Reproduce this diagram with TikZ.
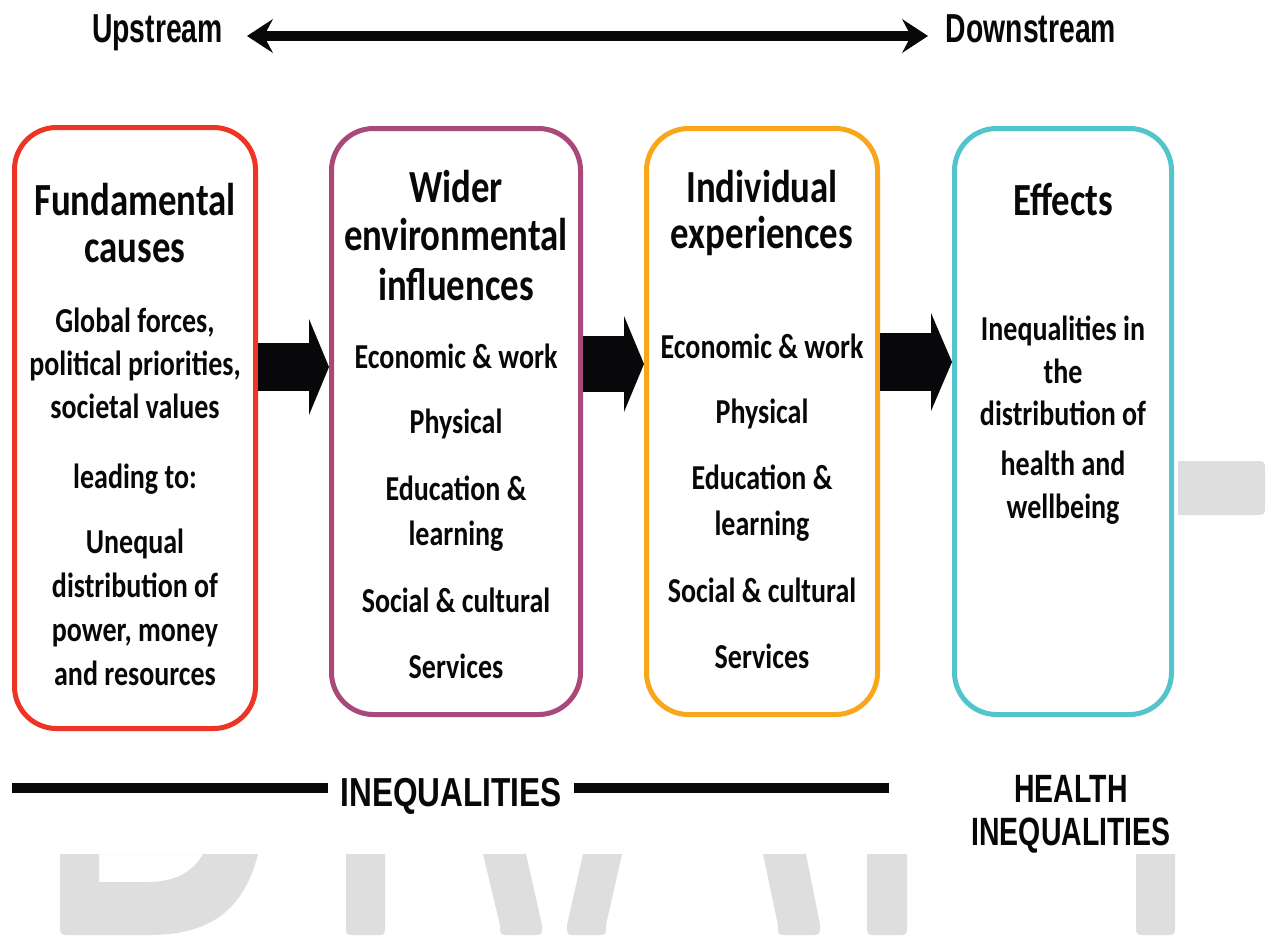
\documentclass[tikz,border=0pt]{standalone}
\usepackage{fontspec}
\setmainfont{Carlito}
\newfontfamily\bxfont[FakeStretch=0.8]{Carlito}
\newfontfamily\anafont[FakeStretch=0.70]{Liberation Sans}
\newfontfamily\anbfont[FakeStretch=0.78]{Liberation Sans}
\newfontfamily\ancfont[FakeStretch=0.72]{Liberation Sans}
\usetikzlibrary{arrows.meta}
\definecolor{cred}{RGB}{238,52,36}
\definecolor{cpur}{RGB}{168,73,122}
\definecolor{corg}{RGB}{250,166,26}
\definecolor{cteal}{RGB}{82,196,204}
\definecolor{wmgray}{RGB}{222,222,222}
\definecolor{ink}{RGB}{8,8,10}
\newcommand\wmstroke[4]{\fill[wm] (#1,854) -- (#3,925) .. controls (#3,935) .. (#3+10,935) -- (#4-10,935) .. controls (#4,935) .. (#4,925) -- (#2,854) -- cycle;}
\begin{document}
\begin{tikzpicture}[x=1pt,y=-1pt,
  stagebox/.style={draw, line width=5pt, rounded corners=42pt, inner sep=0pt},
  headtxt/.style={font=\bxfont\bfseries\fontsize{46}{48}\selectfont, anchor=base, inner sep=0pt, text=ink},
  bodytxt/.style={font=\bxfont\bfseries\fontsize{35}{40}\selectfont, anchor=base, inner sep=0pt, text=ink},
  lbla/.style={font=\anafont\bfseries\fontsize{40.5}{44}\selectfont, anchor=base, inner sep=0pt, text=ink},
  lblb/.style={font=\anbfont\bfseries\fontsize{40.5}{44}\selectfont, anchor=base, inner sep=0pt, text=ink},
  lblc/.style={font=\ancfont\bfseries\fontsize{39.5}{44}\selectfont, anchor=base, inner sep=0pt, text=ink},
  blkarrow/.style={draw=ink, line width=#1},
  wm/.style={fill=wmgray},
]
\useasboundingbox (0,0) rectangle (1268,938);
\fill[white] (0,0) rectangle (1268,938);

% watermark remnants
\fill[wm, even odd rule] (60,854) -- (60,923) .. controls (60,935) .. (72,935) -- (150,935) .. controls (215,935) and (245,905) .. (258,854) -- cycle
  (99,854) -- (99,882) -- (147,882) .. controls (175,882) and (193,872) .. (203,854) -- cycle;
\wmstroke{346}{385}{346}{385}
\wmstroke{483}{526}{500}{542}
\wmstroke{583}{622}{567}{606}
\wmstroke{763}{806}{778}{820}
\wmstroke{867}{907}{867}{907}
\wmstroke{1136}{1175}{1136}{1175}
\fill[wm] (1178,461) -- (1255,461) .. controls (1265,461) .. (1265,471) -- (1265,505) .. controls (1265,515) .. (1255,515) -- (1178,515) -- cycle;

% top labels and double arrow
\node[lbla] (up) at (157.5,42) {Upstream};
\node[lbla] (down) at (1031,42) {Downstream};
\coordinate (al) at (247,36);
\coordinate (ar) at (928,36);
\draw[ink, line width=10pt, {Stealth[length=26pt,width=34pt,inset=9pt,line width=0pt]}-{Stealth[length=26pt,width=34pt,inset=9pt,line width=0pt]}] (al) -- (ar);

% boxes
\node[stagebox, draw=cred, minimum width=241pt, minimum height=601pt] (b1) at (135,428) {};
\node[stagebox, draw=cpur, minimum width=249pt, minimum height=586pt] (b2) at (456,421.5) {};
\node[stagebox, draw=corg, minimum width=231pt, minimum height=586pt] (b3) at (762,421.5) {};
\node[stagebox, draw=cteal, minimum width=217pt, minimum height=586pt] (b4) at (1063,421.5) {};

% box 1 text
\node[headtxt] (t11) at (135,215) {Fundamental};
\node[headtxt] (t12) at (135,262) {causes};
\node[bodytxt] (t13) at (135,332) {Global forces,};
\node[bodytxt] (t14) at (135,375) {political priorities,};
\node[bodytxt] (t15) at (135,418) {societal values};
\node[bodytxt] (t16) at (135,488) {leading to:};
\node[bodytxt] (t17) at (135,553) {Unequal};
\node[bodytxt] (t18) at (135,597) {distribution of};
\node[bodytxt] (t19) at (135,641) {power, money};
\node[bodytxt] (t110) at (135,685) {and resources};

% box 2 text
\node[headtxt] (t21) at (456,202) {Wider};
\node[headtxt] (t22) at (456,250) {environmental};
\node[headtxt] (t23) at (456,300) {influences};
\node[bodytxt] (t24) at (456,368) {Economic \& work};
\node[bodytxt] (t25) at (456,433) {Physical};
\node[bodytxt] (t26) at (456,500) {Education \&};
\node[bodytxt] (t27) at (456,545) {learning};
\node[bodytxt] (t28) at (456,612) {Social \& cultural};
\node[bodytxt] (t29) at (456,678) {Services};

% box 3 text
\node[headtxt] (t31) at (762,202) {Individual};
\node[headtxt] (t32) at (762,248) {experiences};
\node[bodytxt] (t33) at (762,358) {Economic \& work};
\node[bodytxt] (t34) at (762,423) {Physical};
\node[bodytxt] (t35) at (762,489) {Education \&};
\node[bodytxt] (t36) at (762,535) {learning};
\node[bodytxt] (t37) at (762,602) {Social \& cultural};
\node[bodytxt] (t38) at (762,668) {Services};

% box 4 text
\node[headtxt] (t41) at (1063,215) {Effects};
\node[bodytxt] (t42) at (1063,340) {Inequalities in};
\node[bodytxt] (t43) at (1063,383) {the};
\node[bodytxt] (t44) at (1063,425) {distribution of};
\node[bodytxt] (t45) at (1063,475) {health and};
\node[bodytxt] (t46) at (1063,518) {wellbeing};

% block arrows between boxes
\coordinate (ay1) at (0,367);
\coordinate (ay2) at (0,364);
\coordinate (ay3) at (0,362);
\draw[blkarrow=48pt, -{Triangle[length=20pt,width=96pt,line width=0pt]}] (b1.east |- ay1) -- (b2.west |- ay1);
\draw[blkarrow=56pt, -{Triangle[length=20pt,width=96pt,line width=0pt]}] (b2.east |- ay2) -- (b3.west |- ay2);
\draw[blkarrow=58pt, -{Triangle[length=21pt,width=98pt,line width=0pt]}] (b3.east |- ay3) -- (b4.west |- ay3);

% bottom labels
\node[lblb, inner xsep=12pt] (ineq) at (451,806) {INEQUALITIES};
\coordinate (l1) at (12,788);
\coordinate (l2) at (889,788);
\draw[ink, line width=10pt] (l1) -- (ineq.west |- l1);
\draw[ink, line width=10pt] (ineq.east |- l2) -- (l2);
\node[lblc] (hi1) at (1071,802) {HEALTH};
\node[lblc] (hi2) at (1071,845) {INEQUALITIES};
\end{tikzpicture}
\end{document}
